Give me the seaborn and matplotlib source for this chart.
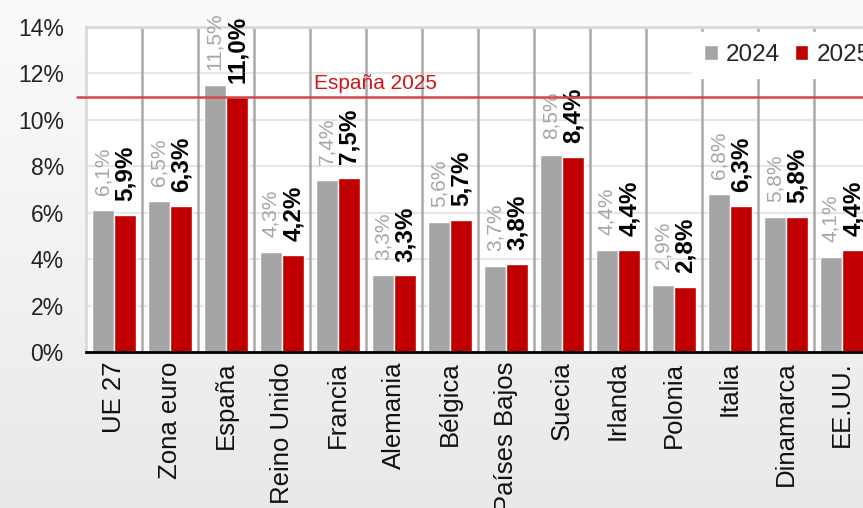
import numpy as np
import pandas as pd
import seaborn as sns
import matplotlib.pyplot as plt
from matplotlib.colors import LinearSegmentedColormap

# Datos: tasa de paro 2024 vs 2025
paises = ['UE 27', 'Zona euro', 'España', 'Reino Unido', 'Francia', 'Alemania',
          'Bélgica', 'Países Bajos', 'Suecia', 'Irlanda', 'Polonia', 'Italia',
          'Dinamarca', 'EE.UU.']
valores_2024 = [6.1, 6.5, 11.5, 4.3, 7.4, 3.3, 5.6, 3.7, 8.5, 4.4, 2.9, 6.8, 5.8, 4.1]
valores_2025 = [5.9, 6.3, 11.0, 4.2, 7.5, 3.3, 5.7, 3.8, 8.4, 4.4, 2.8, 6.3, 5.8, 4.4]
anios = ['2024', '2025']
referencia_espana = 11.0
y_ticks = [0, 2, 4, 6, 8, 10, 12, 14]

df = pd.DataFrame({
    'Pais': paises * 2,
    'Anio': ['2024'] * len(paises) + ['2025'] * len(paises),
    'Valor': valores_2024 + valores_2025,
})

sns.set_theme(style='white')
plt.rcParams['font.family'] = ['Liberation Sans', 'DejaVu Sans']

W, H = 863, 508
fig = plt.figure(figsize=(W / 100, H / 100), dpi=100)

# fondo degradado gris claro
bg = fig.add_axes([0, 0, 1, 1], zorder=-10)
grad = np.linspace(0, 1, 256).reshape(-1, 1)
cmap_bg = LinearSegmentedColormap.from_list('bg', ['#fbfbfb', '#e9e9e9'])
bg.imshow(grad, aspect='auto', cmap=cmap_bg, extent=[0, 1, 0, 1])
bg.axis('off')

# el eje se sale por la derecha (recortado como en el original)
left, right, top, bottom = 86, 870, 27, 352
ax = fig.add_axes([left / W, (H - bottom) / H, (right - left) / W, (bottom - top) / H])
ax.set_facecolor('white')

palette = {'2024': '#a5a5a5', '2025': '#c00000'}
sns.barplot(data=df, x='Pais', y='Valor', hue='Anio', hue_order=anios,
            palette=palette, width=0.8, saturation=1, ax=ax, zorder=3)

ax.set_xlim(-0.5, len(paises) - 0.5)
ax.set_ylim(0, 14)
ax.set_yticks(y_ticks)
ax.set_yticklabels([f'{t}%' for t in y_ticks], fontsize=16.5, color='#222222')
ax.set_xticks(range(len(paises)))
ax.set_xticklabels(paises, rotation=90, fontsize=18.5, color='#111111')
ax.tick_params(axis='y', length=0, pad=16)
ax.tick_params(axis='x', length=0, pad=7)
ax.set_xlabel('')
ax.set_ylabel('')

# rejilla y separadores
for t in y_ticks[1:-1]:
    ax.axhline(t, color='#e6e6e6', lw=1.5, zorder=1)
for k in range(len(paises) - 1):
    ax.axvline(k + 0.5, color='#a9a9a9', lw=1.8, zorder=2)

for s in ['top', 'left', 'right']:
    ax.spines[s].set_color('#d9d9d9')
    ax.spines[s].set_linewidth(2)
ax.spines['bottom'].set_color('black')
ax.spines['bottom'].set_linewidth(2)
ax.spines['bottom'].set_zorder(6)

# etiquetas de valores
fmt = lambda v: f'{v:.1f}%'.replace('.', ',')
ax.bar_label(ax.containers[0], labels=[fmt(v) for v in valores_2024], padding=11,
             rotation=90, fontsize=15, color='#a5a5a5', clip_on=False)
ax.bar_label(ax.containers[1], labels=[fmt(v) for v in valores_2025], padding=10,
             rotation=90, fontsize=17.5, fontweight='bold', color='black', clip_on=False)

# línea de referencia España 2025
ax.axhline(referencia_espana, xmin=-0.012, xmax=1, color='#d04848', lw=1.8,
           zorder=5, clip_on=False)
ax.annotate('España 2025', xy=(3.58, referencia_espana), xytext=(0, 2.5),
            textcoords='offset points', ha='left', va='bottom',
            fontsize=15, color='#d01818', zorder=5)

leg = ax.legend(loc='upper left', bbox_to_anchor=(0.773, 0.985), ncol=2,
                borderaxespad=0, frameon=True, fancybox=False, framealpha=1,
                edgecolor='white', facecolor='white', fontsize=17.5,
                handlelength=0.55, handleheight=0.55, handletextpad=0.35,
                columnspacing=0.6, borderpad=0.5)
leg.set_zorder(10)

plt.savefig('out.png', dpi=100)
